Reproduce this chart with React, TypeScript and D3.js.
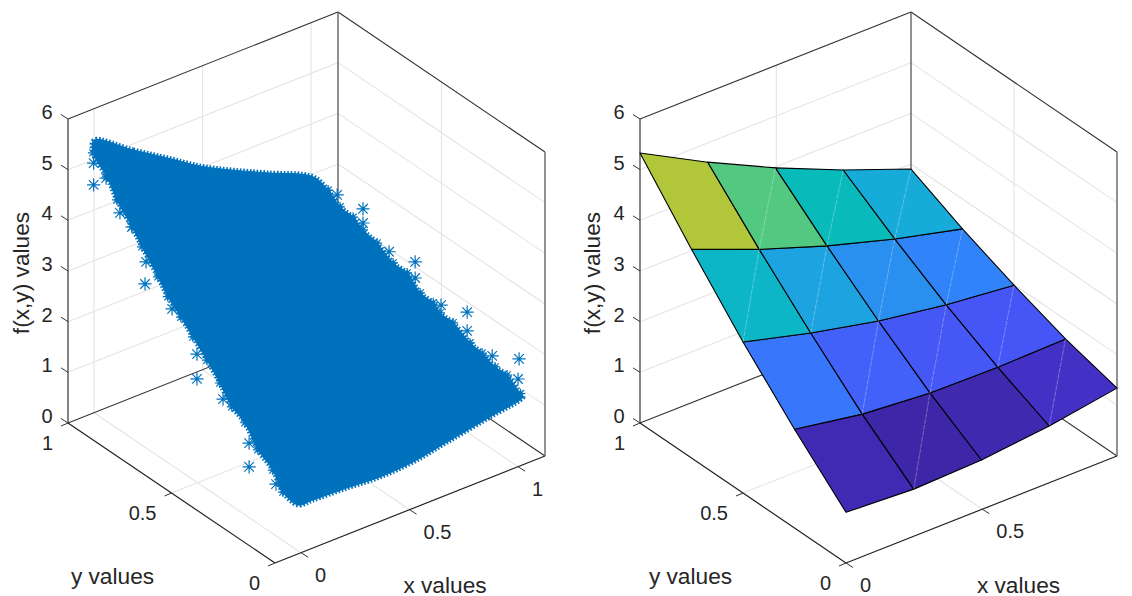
import React from "react";
import * as d3 from "d3";

// axis ticks
const zTicks = [0, 1, 2, 3, 4, 5, 6];
const yTicks = [0, 0.5, 1];
const leftXTicks = [0, 0.5, 1];
const rightXTicks = [0, 0.5];

// left panel: envelope of the point cloud (top, right, bottom, left edge)
const cloudX = [
  0, 0.18, 0.336, 0.488, 0.64, 0.797, 1.01,
  1.02, 1.02, 1.02, 1.02, 1.02, 1.02, 1.02, 1.02, 1.02, 1.02, 1.02, 1.02, 1.02, 1.02, 1.02, 1.02,
  1.023, 0.871, 0.673, 0.516, 0.364, 0.212, 0.055, -0.014,
  -0.01, -0.01, -0.01, -0.01, -0.01, -0.01, -0.01, -0.01, -0.01, -0.01, -0.01, -0.01, -0.01, -0.01, -0.01, -0.01,
];
const cloudY = [
  1, 1, 1, 1, 1, 1, 1,
  0.939, 0.881, 0.818, 0.77, 0.702, 0.625, 0.557, 0.494, 0.431, 0.398, 0.335, 0.253, 0.195, 0.132, 0.074, 0.01,
  0, 0, 0, 0, 0, 0, 0, 0,
  0.077, 0.126, 0.198, 0.261, 0.324, 0.382, 0.444, 0.512, 0.57, 0.633, 0.681, 0.758, 0.807, 0.879, 0.928, 0.995,
];
const cloudZ = [
  5.38, 4.88, 4.46, 4.04, 3.7, 3.38, 2.94,
  2.83, 2.66, 2.63, 2.51, 2.44, 2.26, 2.25, 2.03, 2.01, 1.9, 1.88, 1.71, 1.67, 1.57, 1.57, 1.38,
  1.34, 1.2, 1.04, 0.914, 0.876, 0.918, 0.947, 0.965,
  1.0, 1.3, 1.5, 1.86, 2.0, 2.31, 2.59, 2.86, 3.09, 3.32, 3.58, 3.96, 4.22, 4.55, 4.87, 5.16,
];
// outline indices that sit on the rough side edges, where single markers show
const roughEdge = [...d3.range(7, 23), ...d3.range(31, 47)];

// left panel: noisy points that stick out of the cloud
const starX = [
  -0.1, -0.1, -0.1, -0.1, -0.1, -0.1, -0.1, -0.1, -0.1, -0.1, -0.1, -0.1, -0.1, -0.1,
  1.1, 1.1, 1.1, 1.1, 1.1, 1.1, 1.1, 1.1, 1.1, 1.1, 1.1, 1.1,
];
const starY = [
  0.897, 0.897, 0.837, 0.77, 0.712, 0.644, 0.649, 0.518, 0.398, 0.398, 0.272, 0.146, 0.146, 0.016,
  0.979, 0.854, 0.854, 0.728, 0.602, 0.602, 0.477, 0.351, 0.351, 0.23, 0.1, 0.105,
];
const starZ = [
  4.95, 5.38, 5.25, 4.75, 4.63, 4.13, 3.68, 3.55, 2.99, 2.5, 2.45, 1.93, 1.46, 1.48,
  2.49, 2.56, 2.28, 2.06, 2.21, 1.89, 1.7, 1.91, 1.54, 1.38, 1.68, 1.27,
];

// right panel: surface values, one row per y
const gridX = [0, 0.2485, 0.497, 0.7455, 0.994];
const gridY = [0, 0.25, 0.5, 0.75, 1];
const surfaceZ = [
  [1.0, 0.93, 0.977, 1.12, 1.34],
  [1.95, 1.72, 1.61, 1.59, 1.62],
  [2.98, 2.63, 2.34, 2.13, 1.99],
  [4.12, 3.59, 3.13, 2.74, 2.41],
  [5.33, 4.62, 3.98, 3.41, 2.9],
];
// cells [i, j] whose triangle seam shows as a faint light line
const seamCells = [
  [1, 0], [3, 0], [1, 1], [2, 1], [3, 1], [0, 2], [1, 2], [2, 2], [3, 2], [1, 3], [2, 3], [3, 3],
];

const parula = [
  "#3E26A8", "#4639D8", "#4752F4", "#3C70FD", "#2D87F7", "#259AE6", "#12B1D6", "#08BBBA",
  "#37C897", "#71C868", "#ABC739", "#D5C538", "#FEC338", "#FBDF27", "#F9FB15",
];
const INK = "#262626";
const GRID = "#e4e4e4";
const BLUE = "#0072BD";
const FONT = "'Liberation Sans', Arial, sans-serif";

const starPath = (r: number) => {
  const p = d3.path();
  const d = r * 0.72;
  p.moveTo(-r, 0); p.lineTo(r, 0);
  p.moveTo(0, -r); p.lineTo(0, r);
  p.moveTo(-d, -d); p.lineTo(d, d);
  p.moveTo(-d, d); p.lineTo(d, -d);
  return p.toString();
};

type Pt = [number, number];

type Panel = {
  project: (x: number, y: number, z: number) => Pt;
  xDomain: number[];
};

const makePanel = (fx: number, fy: number, xSpan: number, ySpan: number, xDomain: number[]): Panel => {
  const xs = d3.scaleLinear().domain(xDomain).range([0, 1]);
  const ys = d3.scaleLinear().domain([0, 1]).range([0, 1]);
  const zs = d3.scaleLinear().domain([0, 6]).range([0, 304]);
  return {
    xDomain,
    project: (x, y, z) => [
      fx + xs(x) * xSpan - ys(y) * ySpan,
      fy - xs(x) * 107 - ys(y) * 140 - zs(z),
    ],
  };
};

const seg = (a: Pt, b: Pt) => `M${a[0]},${a[1]}L${b[0]},${b[1]}`;

function Axes({ panel, xTicks, labelX, labelY, labelZ, children }: any) {
  const { project, xDomain } = panel as Panel;
  const [x0, x1] = xDomain;
  const gridLines: string[] = [];
  zTicks.slice(1, -1).forEach((z) => {
    gridLines.push(seg(project(x0, 1, z), project(x1, 1, z)));
    gridLines.push(seg(project(x1, 1, z), project(x1, 0, z)));
  });
  xTicks.filter((x: number) => x > x0 && x < x1).forEach((x: number) => {
    gridLines.push(seg(project(x, 1, 0), project(x, 1, 6)));
    gridLines.push(seg(project(x, 0, 0), project(x, 1, 0)));
  });
  yTicks.slice(1, -1).forEach((y) => {
    gridLines.push(seg(project(x1, y, 0), project(x1, y, 6)));
    gridLines.push(seg(project(x0, y, 0), project(x1, y, 0)));
  });
  const tickLabel = { fontFamily: FONT, fontSize: 20, fill: INK, dominantBaseline: "central" } as const;
  const axisLabel = { fontFamily: FONT, fontSize: 22.7, fill: INK, textAnchor: "middle" } as const;
  const L = project(x0, 1, 0);
  const B = project(x1, 1, 0);
  const R = project(x1, 0, 0);
  const F = project(x0, 0, 0);
  return (
    <g>
      <path d={gridLines.join("")} fill="none" stroke={GRID} strokeWidth={1.1} />
      {/* back edges of the box */}
      <path
        d={seg(L, B) + seg(B, R) + seg(project(x0, 1, 6), project(x1, 1, 6)) + seg(project(x1, 1, 6), project(x1, 0, 6))}
        fill="none"
        stroke="#333"
        strokeWidth={1.1}
      />
      <path d={seg(B, project(x1, 1, 6))} stroke="#555" strokeWidth={1.3} />
      <path d={seg(R, project(x1, 0, 6))} stroke="#777" strokeWidth={1.6} />
      <path d={seg(L, project(x0, 1, 6))} stroke="#333" strokeWidth={1.2} />
      {/* floor axes */}
      <path d={seg(L, F) + seg(F, R)} fill="none" stroke="#222" strokeWidth={1.2} />
      {children}
      {zTicks.map((z) => {
        const p = project(x0, 1, z);
        return (
          <g key={"z" + z}>
            <path d={seg(p, [p[0] - 7, p[1] - 4.5])} stroke="#333" strokeWidth={1} />
            <text x={p[0] - 21} y={p[1] - 7} textAnchor="middle" {...tickLabel}>{z}</text>
          </g>
        );
      })}
      {yTicks.map((y) => {
        const p = project(x0, y, 0);
        return (
          <g key={"y" + y}>
            <path d={seg(p, [p[0] - 7, p[1] + 3])} stroke="#333" strokeWidth={1} />
            <text x={p[0] - 15} y={p[1] + 20} textAnchor="end" {...tickLabel}>{y}</text>
          </g>
        );
      })}
      {xTicks.map((x: number) => {
        const p = project(x, 0, 0);
        return (
          <g key={"x" + x}>
            <path d={seg(p, [p[0] + 7, p[1] + 4.5])} stroke="#333" strokeWidth={1} />
            <text x={p[0] + 14} y={p[1] + 22} textAnchor="start" {...tickLabel}>{x}</text>
          </g>
        );
      })}
      <text x={labelX[0]} y={labelX[1]} {...axisLabel}>x values</text>
      <text x={labelY[0]} y={labelY[1]} {...axisLabel}>y values</text>
      <text transform={`translate(${labelZ[0]},${labelZ[1]}) rotate(-90)`} {...axisLabel}>f(x,y) values</text>
    </g>
  );
}

function PointCloud({ panel }: { panel: Panel }) {
  const outline = d3.line().curve(d3.curveCatmullRomClosed.alpha(0.5))(
    cloudX.map((x, i) => panel.project(x, cloudY[i], cloudZ[i]))
  ) as string;
  const star = starPath(6.6);
  const bump = starPath(5);
  return (
    <g>
      <path d={outline} fill={BLUE} stroke={BLUE} strokeWidth={1} strokeLinejoin="round" />
      {/* marker arms along the envelope */}
      <path d={outline} fill="none" stroke={BLUE} strokeWidth={5} strokeDasharray="1.6 1.8" />
      {roughEdge.map((k) => {
        const [sx, sy] = panel.project(cloudX[k], cloudY[k], cloudZ[k]);
        return <path key={"e" + k} d={bump} transform={`translate(${sx},${sy})`} fill="none" stroke={BLUE} strokeWidth={1.2} />;
      })}
      {starX.map((x, i) => {
        const [sx, sy] = panel.project(x, starY[i], starZ[i]);
        return <path key={i} d={star} transform={`translate(${sx},${sy})`} fill="none" stroke={BLUE} strokeWidth={1.2} />;
      })}
    </g>
  );
}

function Surface({ panel }: { panel: Panel }) {
  const values = surfaceZ.flat();
  const [lo, hi] = d3.extent(values) as [number, number];
  const colour = d3
    .scaleLinear<string>()
    .domain(parula.map((_, i) => lo + ((hi - lo) * i) / (parula.length - 1)))
    .range(parula)
    .interpolate(d3.interpolateRgb);
  const at = (i: number, j: number) => panel.project(gridX[i], gridY[j], surfaceZ[j][i]);
  const line = d3.line();
  const cells: React.ReactNode[] = [];
  gridY.slice(0, -1).forEach((_, j) => {
    gridX.slice(0, -1).forEach((_, i) => {
      const d = line.curve(d3.curveLinearClosed)([at(i, j), at(i + 1, j), at(i + 1, j + 1), at(i, j + 1)]) as string;
      cells.push(<path key={`${i}-${j}`} d={d} fill={colour(surfaceZ[j][i])} stroke="#000" strokeWidth={1.1} strokeLinejoin="round" />);
    });
  });
  return (
    <g>
      {cells}
      {seamCells.map(([i, j]) => (
        <path key={`s${i}-${j}`} d={seg(at(i, j), at(i + 1, j + 1))} stroke="#fff" strokeOpacity={0.3} strokeWidth={1} strokeDasharray="5 1" />
      ))}
    </g>
  );
}

export default function App() {
  const left = makePanel(275, 563, 270, 207, [-0.12, 1.124]);
  const right = makePanel(846, 563, 271, 206, [0, 0.994]);
  return (
    <svg width={1132} height={596} style={{ position: "absolute", left: 0, top: 0, display: "block", background: "#fff" }}>
      <Axes panel={left} xTicks={leftXTicks} labelX={[445, 592.5]} labelY={[112.5, 584]} labelZ={[28.5, 273]}>
        <PointCloud panel={left} />
      </Axes>
      <Axes panel={right} xTicks={rightXTicks} labelX={[1018.5, 592.5]} labelY={[690.5, 584]} labelZ={[600, 273]}>
        <Surface panel={right} />
      </Axes>
    </svg>
  );
}
